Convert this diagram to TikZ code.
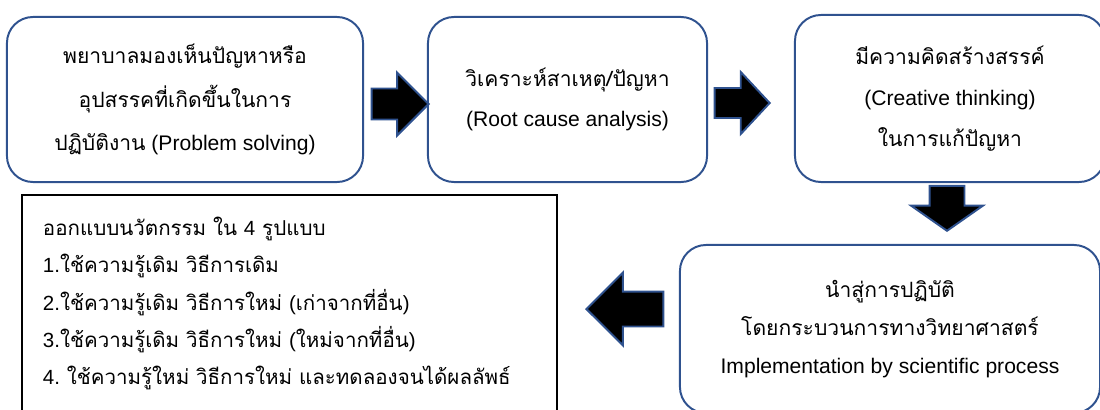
\documentclass[tikz,border=0pt]{standalone}
\usepackage{fontspec}
\setmainfont{Liberation Sans}
\newfontfamily\thai[Script=Thai]{Loma}
\usetikzlibrary{shapes,arrows}
\definecolor{shapeBlue}{RGB}{47,82,143}

\begin{document}
\begin{tikzpicture}[x=0.025cm, y=-0.025cm]%
  \tikzset{flow box/.style={draw=shapeBlue, line width=1.4pt, rounded corners=0.65cm, fill=white, align=center, inner sep=0pt, font=\fontsize{15}{29}\selectfont}}
  \tikzset{block arrow/.style={single arrow, anchor=tip, draw=shapeBlue, fill=black, line width=1.4pt, inner xsep=0pt, inner ysep=0.3625cm, single arrow head extend=0.4cm}}
  \useasboundingbox (0,0) rectangle (1100,409);
  \clip (0,0) rectangle (1100,409);

  \node[flow box, minimum width=8.9cm, minimum height=4.125cm, font=\fontsize{15}{31}\selectfont] at (185,99.5) (problem) {{\thai พยาบาลมองเห็นปัญหาหรือ}\\ {\thai อุปสรรคที่เกิดขึ้นในการ}\\ {\thai ปฏิบัติงาน} (Problem solving)};
  \node[flow box, minimum width=6.975cm, minimum height=4.125cm] at (567.5,99.5) (cause) {{\thai วิเคราะห์สาเหตุ/ปัญหา}\\ (Root cause analysis)};
  \node[flow box, minimum width=7.75cm, minimum height=4.175cm] at (950,98.5) (creative) {{\thai มีความคิดสร้างสรรค์}\\ (Creative thinking)\\ {\thai ในการแก้ปัญหา}};
  \node[flow box, minimum width=10.5cm, minimum height=4.2cm, font=\fontsize{15}{27}\selectfont] at (890,329) (apply) {{\thai นำสู่การปฏิบัติ}\\ {\thai โดยกระบวนการทางวิทยาศาสตร์}\\ Implementation by scientific process};
  \node[draw=black, line width=1.8pt, fill=white, minimum width=13.375cm, minimum height=5.425cm, text width=12.325cm, align=left, inner xsep=0.525cm, inner ysep=0pt, font=\fontsize{14.6}{26.5}\selectfont] at (289.5,303.5) (design) {{\thai ออกแบบนวัตกรรม ใน} 4 {\thai รูปแบบ}\\ 1.{\thai ใช้ความรู้เดิม วิธีการเดิม}\\ 2.{\thai ใช้ความรู้เดิม วิธีการใหม่} ({\thai เก่าจากที่อื่น})\\ 3.{\thai ใช้ความรู้เดิม วิธีการใหม่} ({\thai ใหม่จากที่อื่น})\\ 4.\ {\thai ใช้ความรู้ใหม่ วิธีการใหม่ และทดลองจนได้ผลลัพธ์}};

  % block arrows between the steps, placed by their tips
  \node[block arrow, minimum height=1.425cm] at (430,104) (arrA) {};
  \node[block arrow, minimum height=1.375cm, inner ysep=0.35cm, single arrow tip angle=94] at (771,103) (arrB) {};
  \node[block arrow, minimum height=1.125cm, inner ysep=0.4125cm, single arrow head extend=0.4625cm, single arrow tip angle=110, rotate=-90] at (947,232) (arrC) {};
  \node[block arrow, minimum height=1.925cm, inner ysep=0.4125cm, single arrow head extend=0.475cm, rotate=180] at (585,309) (arrD) {};
\end{tikzpicture}
\end{document}
